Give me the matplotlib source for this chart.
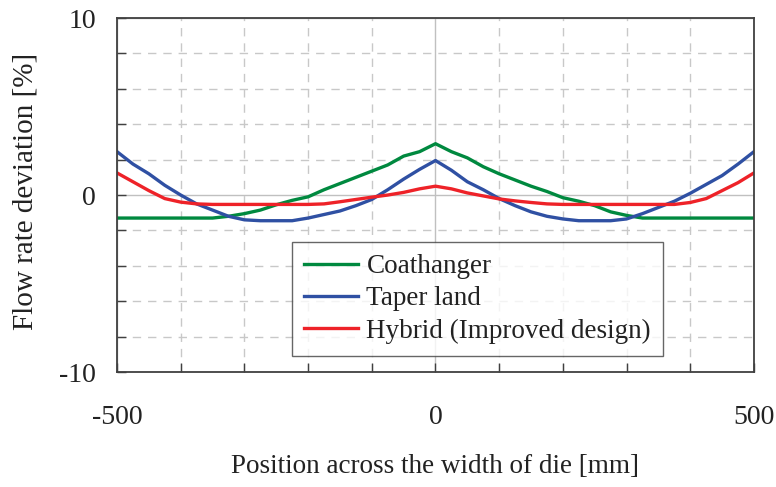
import numpy as np
import matplotlib
matplotlib.use('Agg')
import matplotlib.pyplot as plt
from matplotlib.ticker import FixedLocator, FixedFormatter

# position across the die [mm]
position = [-500, -475, -450, -425, -400, -375, -350, -325, -300, -275, -250,
            -225, -200, -175, -150, -125, -100, -75, -50, -25, 0,
            25, 50, 75, 100, 125, 150, 175, 200, 225, 250,
            275, 300, 325, 350, 375, 400, 425, 450, 475, 500]

# flow rate deviation [%]
coathanger = [-1.3, -1.3, -1.3, -1.3, -1.3, -1.3, -1.3, -1.2, -1.05, -0.85, -0.55,
              -0.3, -0.1, 0.3, 0.65, 1.0, 1.35, 1.7, 2.2, 2.45, 2.9,
              2.45, 2.1, 1.6, 1.2, 0.85, 0.5, 0.2, -0.15, -0.35, -0.6,
              -0.95, -1.15, -1.3, -1.3, -1.3, -1.3, -1.3, -1.3, -1.3, -1.3]
taper_land = [2.45, 1.75, 1.2, 0.55, 0.0, -0.5, -0.85, -1.2, -1.4, -1.45, -1.45,
              -1.45, -1.3, -1.1, -0.9, -0.6, -0.25, 0.3, 0.9, 1.45, 1.95,
              1.4, 0.75, 0.3, -0.2, -0.6, -0.95, -1.2, -1.35, -1.45, -1.45,
              -1.45, -1.35, -1.05, -0.7, -0.35, 0.1, 0.6, 1.1, 1.75, 2.45]
hybrid = [1.25, 0.75, 0.25, -0.2, -0.4, -0.5, -0.53, -0.53, -0.53, -0.53, -0.53,
          -0.53, -0.53, -0.5, -0.38, -0.25, -0.12, 0.0, 0.15, 0.35, 0.5,
          0.35, 0.12, -0.05, -0.22, -0.33, -0.42, -0.5, -0.53, -0.53, -0.53,
          -0.53, -0.53, -0.53, -0.53, -0.53, -0.42, -0.2, 0.25, 0.7, 1.25]

x_major = [-500, 0, 500]
x_labels = ['-500', '0', '500']
y_major = [-10, 0, 10]
y_labels = ['-10', '0', '10']

plt.rcParams['font.family'] = ['Liberation Serif', 'DejaVu Serif']

fig = plt.figure(figsize=(7.76, 4.87), dpi=100)
ax = fig.add_axes([0.1508, 0.236, 0.8208, 0.727])

ax.plot(position, coathanger, color='#00893f', lw=2.4, label='Coathanger')
ax.plot(position, taper_land, color='#2f50a3', lw=2.4, label='Taper land')
ax.plot(position, hybrid, color='#ee2228', lw=2.4, label='Hybrid (Improved design)')

ax.set_xlim(-500, 500)
ax.set_ylim(-10, 10)
ax.xaxis.set_major_locator(FixedLocator(x_major))
ax.xaxis.set_major_formatter(FixedFormatter(x_labels))
ax.xaxis.set_minor_locator(FixedLocator(np.arange(-500, 501, 100)))
ax.yaxis.set_major_locator(FixedLocator(y_major))
ax.yaxis.set_major_formatter(FixedFormatter(y_labels))
ax.yaxis.set_minor_locator(FixedLocator(np.arange(-10, 11, 2)))

ax.grid(which='minor', color='#c8c8c8', lw=1.0, ls=(0, (6, 5)))
ax.grid(which='major', color='#c0c0c0', lw=1.0, ls='-')
ax.set_axisbelow(True)

for s in ax.spines.values():
    s.set_color('#404040')
    s.set_linewidth(1.3)

ax.tick_params(which='both', direction='in', length=6.5, width=1.0, color='#404040',
               top=False, right=False)
ax.tick_params(axis='x', which='major', pad=24, labelsize=20, labelcolor='#222222')
ax.tick_params(axis='y', which='major', pad=15, labelsize=20, labelcolor='#222222')

ax.set_xlabel('Position across the width of die [mm]', fontsize=19.5, color='#222222')
ax.xaxis.set_label_coords(0.5, -0.266)
ax.xaxis.label.set_va('center')
ax.set_ylabel('Flow rate deviation [%]', fontsize=21, color='#222222')
ax.yaxis.set_label_coords(-0.1444, 0.51)
ax.yaxis.label.set_va('center')

leg = ax.legend(loc='lower left', bbox_to_anchor=(0.2747, 0.0452), borderaxespad=0,
                fontsize=19.5, frameon=True, fancybox=False, edgecolor='#404040',
                handlelength=2.0, handletextpad=0.3, labelspacing=0.27,
                borderpad=0.45)
leg.get_frame().set_linewidth(1.0)
for t in leg.get_texts():
    t.set_color('#222222')

fig.savefig('out.png', dpi=100)
